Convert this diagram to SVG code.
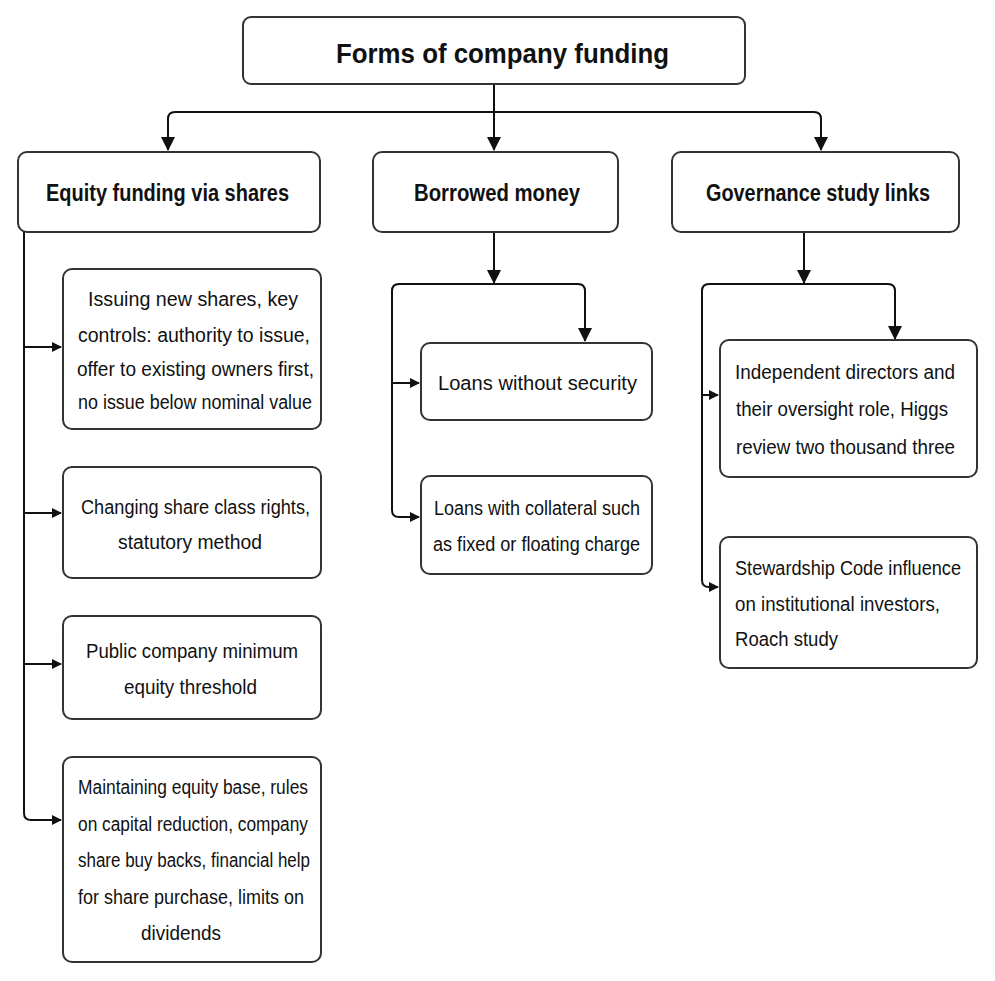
<svg xmlns="http://www.w3.org/2000/svg" width="995" height="981" viewBox="0 0 995 981">
<defs>
<marker id="ah" markerWidth="10" markerHeight="10" refX="9" refY="5" orient="auto" markerUnits="userSpaceOnUse">
<path d="M0,0 L10,5 L0,10 Z" fill="#111"/>
</marker>
<marker id="ahs" markerWidth="14" markerHeight="14" refX="13" refY="7" orient="auto" markerUnits="userSpaceOnUse">
<path d="M0,0 L14,7 L0,14 Z" fill="#111"/>
</marker>
<style>
.box{fill:#fff;stroke:#333;stroke-width:2}
text{font-family:"Liberation Sans",Arial,sans-serif;fill:#111}
.t0{font-size:27px;font-weight:bold;text-anchor:middle}
.t1{font-size:23px;font-weight:bold;text-anchor:middle}
.t2{font-size:20px;text-anchor:middle}
.t3{font-size:20px}
.c{fill:none;stroke:#111;stroke-width:2}
</style>
</defs>
<rect width="995" height="981" fill="#fff"/>
<g id="connectors">
<path class="c" d="M494,84 V150" marker-end="url(#ahs)"/>
<path class="c" d="M494,112 H175 Q168,112 168,119 V150" marker-end="url(#ahs)"/>
<path class="c" d="M494,112 H814 Q821,112 821,119 V150" marker-end="url(#ahs)"/>
<path class="c" d="M24,232 V813 Q24,820 31,820 H61" marker-end="url(#ah)"/>
<path class="c" d="M24,347 H61" marker-end="url(#ah)"/>
<path class="c" d="M24,513 H61" marker-end="url(#ah)"/>
<path class="c" d="M24,664 H61" marker-end="url(#ah)"/>
<path class="c" d="M494,232 V283" marker-end="url(#ahs)"/>
<path class="c" d="M494,284 H578 Q585,284 585,291 V341" marker-end="url(#ahs)"/>
<path class="c" d="M494,284 H399 Q392,284 392,291 V510 Q392,517 399,517 H419" marker-end="url(#ah)"/>
<path class="c" d="M392,383 H419" marker-end="url(#ah)"/>
<path class="c" d="M804,232 V283" marker-end="url(#ahs)"/>
<path class="c" d="M804,284 H888 Q895,284 895,291 V339" marker-end="url(#ahs)"/>
<path class="c" d="M804,284 H709 Q702,284 702,291 V580 Q702,587 709,587 H718" marker-end="url(#ah)"/>
<path class="c" d="M702,395 H718" marker-end="url(#ah)"/>
</g>
<g id="root">
<rect class="box" x="243" y="17" width="502" height="67" rx="8"/>
<text class="t0" x="502.5" y="63" textLength="333" lengthAdjust="spacingAndGlyphs">Forms of company funding</text>
</g>
<g id="equity">
<rect class="box" x="18" y="152" width="302" height="80" rx="9"/>
<text class="t1" x="167.5" y="201" textLength="243" lengthAdjust="spacingAndGlyphs">Equity funding via shares</text>
</g>
<g id="borrowed">
<rect class="box" x="373" y="152" width="245" height="80" rx="9"/>
<text class="t1" x="497" y="201" textLength="166" lengthAdjust="spacingAndGlyphs">Borrowed money</text>
</g>
<g id="governance">
<rect class="box" x="672" y="152" width="287" height="80" rx="9"/>
<text class="t1" x="818" y="201" textLength="224" lengthAdjust="spacingAndGlyphs">Governance study links</text>
</g>
<g id="issuing">
<rect class="box" x="63" y="269" width="258" height="160" rx="9"/>
<text class="t2" x="193" y="306" textLength="210" lengthAdjust="spacingAndGlyphs">Issuing new shares, key</text>
<text class="t2" x="194" y="342" textLength="232" lengthAdjust="spacingAndGlyphs">controls: authority to issue,</text>
<text class="t2" x="195.5" y="376" textLength="237" lengthAdjust="spacingAndGlyphs">offer to existing owners first,</text>
<text class="t2" x="195" y="409" textLength="234" lengthAdjust="spacingAndGlyphs">no issue below nominal value</text>
</g>
<g id="classrights">
<rect class="box" x="63" y="467" width="258" height="111" rx="9"/>
<text class="t2" x="195.5" y="514" textLength="229" lengthAdjust="spacingAndGlyphs">Changing share class rights,</text>
<text class="t2" x="190" y="549" textLength="144" lengthAdjust="spacingAndGlyphs">statutory method</text>
</g>
<g id="minimum">
<rect class="box" x="63" y="616" width="258" height="103" rx="9"/>
<text class="t2" x="192" y="658" textLength="212" lengthAdjust="spacingAndGlyphs">Public company minimum</text>
<text class="t2" x="190.5" y="694" textLength="133" lengthAdjust="spacingAndGlyphs">equity threshold</text>
</g>
<g id="maintaining">
<rect class="box" x="63" y="757" width="258" height="205" rx="9"/>
<text class="t2" x="193" y="794" textLength="230" lengthAdjust="spacingAndGlyphs">Maintaining equity base, rules</text>
<text class="t2" x="193" y="831" textLength="230" lengthAdjust="spacingAndGlyphs">on capital reduction, company</text>
<text class="t2" x="194" y="867" textLength="232" lengthAdjust="spacingAndGlyphs">share buy backs, financial help</text>
<text class="t2" x="191" y="904" textLength="226" lengthAdjust="spacingAndGlyphs">for share purchase, limits on</text>
<text class="t2" x="181" y="940" textLength="80" lengthAdjust="spacingAndGlyphs">dividends</text>
</g>
<g id="unsecured">
<rect class="box" x="421" y="343" width="231" height="77" rx="9"/>
<text class="t2" x="537.5" y="390" textLength="199" lengthAdjust="spacingAndGlyphs">Loans without security</text>
</g>
<g id="secured">
<rect class="box" x="421" y="476" width="231" height="98" rx="9"/>
<text class="t2" x="537" y="515" textLength="206" lengthAdjust="spacingAndGlyphs">Loans with collateral such</text>
<text class="t2" x="536.5" y="551" textLength="207" lengthAdjust="spacingAndGlyphs">as fixed or floating charge</text>
</g>
<g id="directors">
<rect class="box" x="720" y="340" width="257" height="137" rx="9"/>
<text class="t3" x="735" y="379" textLength="220" lengthAdjust="spacingAndGlyphs">Independent directors and</text>
<text class="t3" x="736" y="416" textLength="212" lengthAdjust="spacingAndGlyphs">their oversight role, Higgs</text>
<text class="t3" x="736" y="454" textLength="219" lengthAdjust="spacingAndGlyphs">review two thousand three</text>
</g>
<g id="stewardship">
<rect class="box" x="720" y="537" width="257" height="131" rx="9"/>
<text class="t3" x="735" y="575" textLength="226" lengthAdjust="spacingAndGlyphs">Stewardship Code influence</text>
<text class="t3" x="735" y="611" textLength="205" lengthAdjust="spacingAndGlyphs">on institutional investors,</text>
<text class="t3" x="735" y="646" textLength="103" lengthAdjust="spacingAndGlyphs">Roach study</text>
</g>
</svg>
